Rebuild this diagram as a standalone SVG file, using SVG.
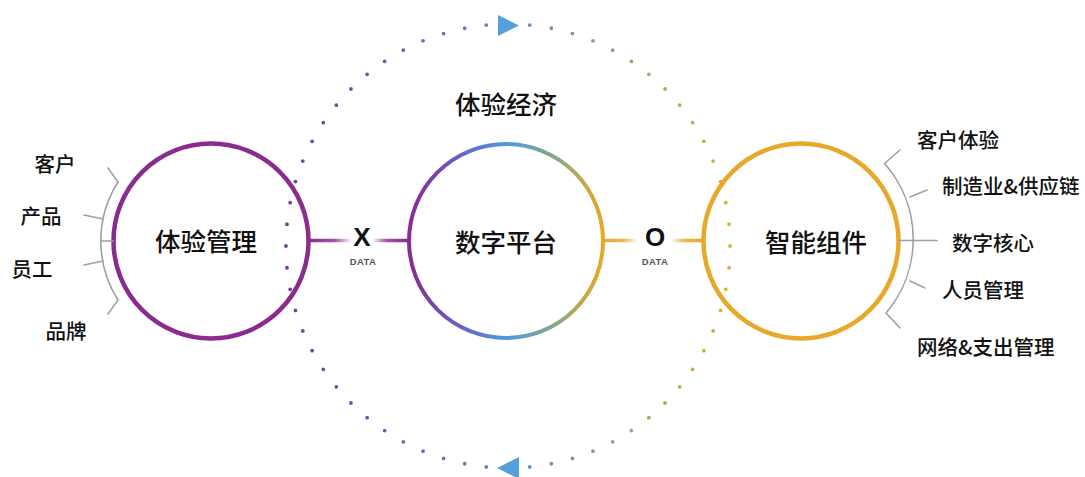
<svg xmlns="http://www.w3.org/2000/svg" width="1085" height="477" viewBox="0 0 1085 477">
  <defs>
    <linearGradient id="ringGrad" gradientUnits="userSpaceOnUse" x1="286" y1="0" x2="731" y2="0">
      <stop offset="0" stop-color="#7a3a98"/>
      <stop offset="0.5" stop-color="#5a8cc8"/>
      <stop offset="1" stop-color="#e0b030"/>
    </linearGradient>
    <linearGradient id="platGrad" gradientUnits="userSpaceOnUse" x1="408" y1="0" x2="604" y2="0">
      <stop offset="0" stop-color="#8a2a92"/>
      <stop offset="0.25" stop-color="#6a5ec0"/>
      <stop offset="0.5" stop-color="#4f9ade"/>
      <stop offset="0.75" stop-color="#86a98c"/>
      <stop offset="1" stop-color="#e8aa22"/>
    </linearGradient>
    <linearGradient id="xLeft" gradientUnits="userSpaceOnUse" x1="309" y1="0" x2="352" y2="0">
      <stop offset="0" stop-color="#8a2b8e"/>
      <stop offset="0.6" stop-color="#8a2b8e" stop-opacity="0.8"/>
      <stop offset="1" stop-color="#8a2b8e" stop-opacity="0"/>
    </linearGradient>
    <linearGradient id="xRight" gradientUnits="userSpaceOnUse" x1="372" y1="0" x2="408" y2="0">
      <stop offset="0" stop-color="#8a2b8e" stop-opacity="0"/>
      <stop offset="0.4" stop-color="#8a2b8e" stop-opacity="0.8"/>
      <stop offset="1" stop-color="#8a2b8e"/>
    </linearGradient>
    <linearGradient id="oLeft" gradientUnits="userSpaceOnUse" x1="603" y1="0" x2="638" y2="0">
      <stop offset="0" stop-color="#e6a92a"/>
      <stop offset="0.6" stop-color="#e6a92a" stop-opacity="0.8"/>
      <stop offset="1" stop-color="#e6a92a" stop-opacity="0"/>
    </linearGradient>
    <linearGradient id="oRight" gradientUnits="userSpaceOnUse" x1="671" y1="0" x2="703" y2="0">
      <stop offset="0" stop-color="#e6a92a" stop-opacity="0"/>
      <stop offset="0.4" stop-color="#e6a92a" stop-opacity="0.8"/>
      <stop offset="1" stop-color="#e6a92a"/>
    </linearGradient>
  </defs>
  <style>
    .cjk { font-family: "Noto Sans CJK SC", "Noto Sans", sans-serif; fill: #111; }
    .big { font-size: 25.5px; font-weight: 500; text-anchor: middle; }
    .lbl { font-size: 20.5px; font-weight: 500; }
    .mid { text-anchor: middle; }
    .bracket { fill: none; stroke: #a0a0a0; stroke-width: 1.6; stroke-linecap: round; }
    .letter { font-family: "Liberation Sans", Arial, sans-serif; font-size: 26px; font-weight: bold; fill: #111; text-anchor: middle; }
    .data { font-family: "Liberation Sans", Arial, sans-serif; font-size: 9.5px; font-weight: bold; fill: #555; text-anchor: middle; letter-spacing: 0.4px; }
    .arrow { fill: #559fdd; }
  </style>

  <g id="connectors">
    <path id="economy-ring" d="M 508 24 A 222 222 0 1 1 508 468 A 222 222 0 1 1 508 24 Z" fill="none" stroke="url(#ringGrad)" stroke-width="3.8" stroke-linecap="round" stroke-dasharray="0 1" pathLength="64"/>
    <polygon class="arrow" points="498,15 519,25.5 498,36"/>
    <polygon class="arrow" points="519,457 497,468 519,479"/>
    <line x1="309" y1="240.5" x2="352" y2="240.5" stroke="url(#xLeft)" stroke-width="3.6"/>
    <line x1="372" y1="240.5" x2="408" y2="240.5" stroke="url(#xRight)" stroke-width="3.6"/>
    <line x1="603" y1="240.5" x2="638" y2="240.5" stroke="url(#oLeft)" stroke-width="3.6"/>
    <line x1="671" y1="240.5" x2="703" y2="240.5" stroke="url(#oRight)" stroke-width="3.6"/>
    <text class="letter" x="362" y="246">X</text>
    <text class="data" x="363" y="265">DATA</text>
    <text class="letter" x="655" y="246">O</text>
    <text class="data" x="655" y="265">DATA</text>
  </g>

  <g id="economy-label">
    <text class="cjk big" x="506" y="114">体验经济</text>
  </g>

  <g id="experience-management">
    <circle cx="211" cy="241" r="97.5" fill="none" stroke="#8a2b8e" stroke-width="4.5"/>
    <text class="cjk big" x="206" y="251">体验管理</text>
  </g>

  <g id="digital-platform">
    <circle cx="506" cy="241" r="97" fill="none" stroke="url(#platGrad)" stroke-width="4"/>
    <text class="cjk big" x="506" y="252">数字平台</text>
  </g>

  <g id="smart-components">
    <circle cx="801" cy="241" r="97.5" fill="none" stroke="#e6a92a" stroke-width="4.5"/>
    <text class="cjk big" x="816" y="252">智能组件</text>
  </g>

  <g id="experience-items">
    <path class="bracket" d="M 108 168 L 118 182 A 110 110 0 0 0 118 300 L 108 314"/>
    <line class="bracket" x1="84" y1="215" x2="103" y2="219"/>
    <line class="bracket" x1="101" y1="241" x2="113" y2="241"/>
    <line class="bracket" x1="84" y1="265" x2="103" y2="261"/>
    <text class="cjk lbl mid" x="55" y="171.5">客户</text>
    <text class="cjk lbl mid" x="41" y="223.5">产品</text>
    <text class="cjk lbl mid" x="32" y="276.5">员工</text>
    <text class="cjk lbl mid" x="66" y="338.5">品牌</text>
  </g>

  <g id="component-items">
    <path class="bracket" d="M 900 150 L 884.5 163.5 A 114 114 0 0 1 886 313 L 900 328"/>
    <line class="bracket" x1="910" y1="197" x2="927" y2="190"/>
    <line class="bracket" x1="899" y1="240.5" x2="937" y2="240.5"/>
    <line class="bracket" x1="910" y1="281" x2="925" y2="288"/>
    <text class="cjk lbl" x="917" y="147.5">客户体验</text>
    <text class="cjk lbl" x="942" y="194">制造业&amp;供应链</text>
    <text class="cjk lbl" x="952" y="250.5">数字核心</text>
    <text class="cjk lbl" x="942" y="297.5">人员管理</text>
    <text class="cjk lbl" x="917" y="354.5">网络&amp;支出管理</text>
  </g>
</svg>
